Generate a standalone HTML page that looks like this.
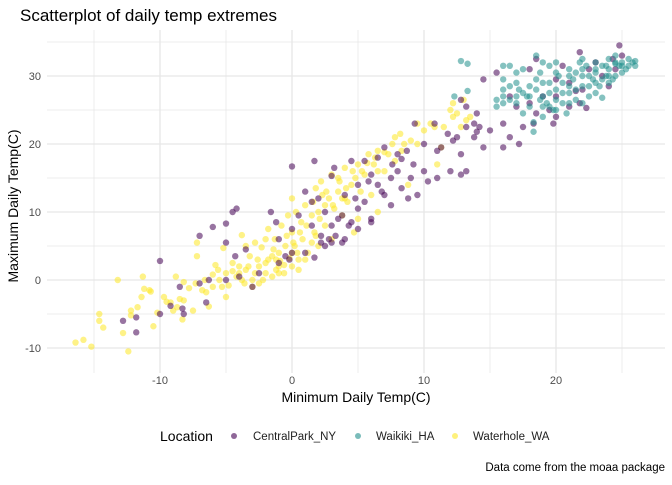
<!DOCTYPE html>
<html><head><meta charset="utf-8"><style>
body{margin:0;background:#fff;}
svg text{font-family:"Liberation Sans",sans-serif;}
</style></head><body>
<svg id="chart" width="672" height="480" xmlns="http://www.w3.org/2000/svg">
<text x="20" y="21" font-size="17" fill="#000">Scatterplot of daily temp extremes</text>
<g id="grid"></g>
<g id="points"></g>
<g id="ticks"></g>
<text x="356" y="402" font-size="14" text-anchor="middle">Minimum Daily Temp(C)</text>
<text transform="translate(18,206) rotate(-90)" font-size="14" text-anchor="middle">Maximum Daily Temp(C)</text>
<g>
<text x="160" y="441" font-size="14">Location</text>
<g><circle cx="234" cy="436" r="3" fill="#440154" fill-opacity="0.6"/><text x="253" y="440" font-size="11.5" fill="#222">CentralPark_NY</text></g>
<g><circle cx="358" cy="436" r="3" fill="#21908C" fill-opacity="0.6"/><text x="376" y="440" font-size="11.5" fill="#222">Waikiki_HA</text></g>
<g><circle cx="455" cy="436" r="3" fill="#FDE725" fill-opacity="0.6"/><text x="473" y="440" font-size="11.5" fill="#222">Waterhole_WA</text></g>
</g>
<text x="665" y="471" font-size="11.5" text-anchor="end">Data come from the moaa package</text>
</svg>
<script>
const xTicks=[-10,0,10,20];
const yTicks=[-10,0,10,20,30];
const xMinor=[-15,-5,5,15,25];
const yMinor=[-5,5,15,25,35];
const waterhole=[[-16.4,-9.2],[-15.8,-8.8],[-15.2,-9.8],[-14.6,-5],[-14.6,-6],[-14.3,-7],[-13.2,0],[-12.8,-7.8],[-12.4,-10.5],[-12.2,-4.5],[-12.2,-5.2],[-11.7,-4],[-11.4,-2.5],[-11.3,0.5],[-11.2,-1.3],[-10.8,-1.5],[-10.7,-1.7],[-10.5,-6.8],[-10.2,-4.8],[-9.7,-2.5],[-9.5,-3.2],[-9.2,-3.3],[-9,-4.5],[-8.7,-4],[-8.5,-2.8],[-8.8,0.5],[-8.2,-3],[-8.3,-5.8],[-8.2,-0.3],[-7.3,-0.5],[-7.5,-4.5],[-6.8,-1.5],[-7.2,5.5],[-7.2,3.5],[-6.5,-1.8],[-6.3,-3.9],[-6,0.8],[-5.8,2.2],[-5.5,0],[-5.3,-1],[-5,-2.5],[-5.2,4.7],[-4.5,1.3],[-4.2,0.5],[-4,1],[-3.8,6.6],[-3.6,-0.5],[-3.5,1.5],[-3.3,2],[-3,-1],[-2.8,5.5],[-2.6,3],[-2.5,-0.5],[-2.3,4.8],[-2,2.5],[-1.8,7.5],[-1.5,3.5],[-1.3,6],[-1.2,1.5],[-1,4],[-0.8,8],[-0.6,2.2],[-0.5,5],[-0.3,9.5],[-0.2,3.2],[0,12],[0,7],[0.2,5],[0.3,10],[0.5,3],[0.7,8.5],[0.8,6],[1,11],[1.2,4],[1.5,9.5],[1.7,7],[1.8,13.5],[2,10],[2.2,14.5],[2.5,8],[2.8,12],[3,15.5],[3.2,10.5],[3.5,13],[3.8,9.5],[4,16.5],[4.2,11.5],[4.5,14],[4.7,7],[5,17],[5.2,13],[5.5,15.5],[5.8,18.5],[6,12.5],[6.2,17],[6.5,19],[6.5,10],[7,16],[7.3,18.5],[7.8,21],[7.8,17.5],[8.2,21.5],[8.5,20],[8.8,14],[9.5,23],[9.5,20],[10,22],[10.5,23],[11,17],[11.5,22.5],[12,25],[12.2,24],[12.5,24.5],[13,26.5],[13.2,23.5],[13.5,24],[11.3,19.5],[12.8,22.5],[-2,1],[-1,2],[0,4],[1,3],[-3,0],[-4,2],[-5,1],[3,6],[2,5],[-1.5,0.5],[0.5,1.5],[6.5,16],[4,12],[5,9],[-1,1],[0,2],[-2.5,2],[1.5,5.5],[2.5,11],[3.5,15],[-3.5,5],[-6,-1],[-4.5,2.5],[-3.8,0],[-3.2,3.5],[-2.8,1],[-2.2,0],[-1.8,3],[-1.4,4.5],[-0.9,2.8],[-0.4,6.5],[0.1,5.5],[0.6,7],[1.1,8],[1.6,11.5],[2.1,9],[2.6,13],[3.1,11],[3.6,14.5],[4.1,13.5],[4.6,16],[5.3,16],[5.7,17.2],[6.3,18],[7,18.8],[7.6,20],[8.3,19],[9,20.5],[-4.8,-0.8],[-5.6,1.5],[-6.6,0],[-7.8,-1.2],[-2,6],[-0.6,1],[0.4,4],[1.8,6.5],[-1.2,3],[2.3,12.5],[3.8,12],[4.8,15],[12.2,26],[10.8,22.5]];
const centralPark=[[-12.8,-6],[-11.8,-5.5],[-11.8,-7.7],[-10,2.8],[-10,-5],[-9.2,-3.8],[-8.5,-1],[-8.3,-4.2],[-8.2,-5],[-7,6.5],[-7,-0.5],[-6.5,-3.3],[-6.3,0],[-6,7.8],[-5,8.3],[-5,5.5],[-5,0],[-4.5,10],[-4.2,10.5],[-4.3,3.5],[-4,0.5],[-3.5,4.5],[-3,-1],[-2.5,1],[-1.6,10],[-1.2,8.5],[-1,6],[-0.5,3.5],[0,16.7],[0,7.5],[0,4],[1,13],[1,4],[1.5,8],[1.7,17.5],[1.7,3.3],[2,12],[2.2,6.5],[2.5,10],[2.8,6],[3,15.3],[3,5.5],[3.2,16.5],[3.5,9],[3.8,5.5],[4,12.5],[4,6],[4.5,17.5],[4.5,8.5],[5,14],[5,10.5],[5.5,11.5],[5.5,17.5],[6,15.5],[6,9],[6.5,14],[6.5,18],[7,19.5],[7,12.5],[7.5,11],[7.5,15],[8,18.5],[8,16],[8.3,13.5],[8.7,19],[8.8,12],[9.2,17],[9.3,23],[9.5,12.5],[10,20],[10,16],[10.3,14.5],[10.8,23],[11,19],[11,15],[11.3,19.5],[11.8,21.5],[12,16],[12.2,20.5],[12.8,26.5],[12.8,18.5],[12.8,15.5],[13.2,22.5],[13.2,25.5],[13.2,16],[13.8,21],[14,24.5],[14,21.8],[14.5,29.5],[14.5,19.5],[15,22],[15.5,30.5],[16,19.5],[16,23],[16.5,27],[17,25.5],[17.2,20],[17.5,22.5],[18,31],[18,26],[18.3,23],[18.5,32.5],[19,27],[19.5,25],[19.8,23],[20,29.5],[20,27],[20.5,31.5],[21,29],[21,25.5],[21.8,33.5],[21.8,26],[22,28],[22.3,25.3],[22.5,31],[23,32],[23.5,30],[24,28.5],[24.3,32.5],[24.8,34.5],[24.5,31],[25,33],[5,7.5],[3,8],[2.5,5],[4.3,8],[6,8.5],[0.5,9.5],[3.3,6.5],[2.2,5.5],[3.8,9.5],[4.8,12],[5.8,14.5],[6.8,13],[7.6,17],[8.3,17.8],[9,15],[12.5,21],[13.8,23],[14.2,22.5],[18.5,24.5],[20,24],[21.5,27.8],[16.5,21],[1.5,11.5],[-1,2.5],[-0.2,3]];
const waikiki=[[12.8,32.2],[13.3,31.8],[13.3,27.8],[12.3,27],[15.5,26.5],[15.5,25.5],[16,28],[16,27],[16,31.5],[16.5,31.5],[16.5,26.5],[17,30.5],[17,26],[17.2,28],[17.5,31],[17.5,24.5],[17.8,27],[18,25.5],[18,28.5],[18.3,23.2],[18.3,21.8],[18.5,33],[18.5,28],[18.8,30.5],[19,24],[19,29],[19.3,26],[19.5,31.5],[19.5,27.5],[19.8,25],[20,32],[20,28],[20.2,30],[20.5,26],[20.8,24.5],[21,31],[21,27.5],[21.3,29.5],[21.5,26.5],[21.8,32],[22,30],[22,28.5],[22.3,31.5],[22.5,27],[22.8,29.5],[23,32],[23,30.5],[23.3,28.5],[23.5,26.8],[23.5,31.5],[23.8,30],[24,32.5],[24,31],[24.3,29.5],[24.5,33],[24.8,31.5],[25,32],[25,30.5],[25.3,31],[25.5,32.5],[25.8,32],[26,31.5],[26,32.2],[21.5,30.5],[20.5,29],[19,32],[22,26],[23,29],[24.5,30],[20,26.5],[18.8,26.5],[17,29],[16,29.5],[17.5,27.5],[19.5,29],[21,28.5],[22.5,30],[23.8,31.5],[24.5,31.8],[25.5,31.5],[16,26],[16.5,28.5],[17,27],[18,27],[18.5,29.5],[19,27],[19.5,25.5],[20,30.5],[20.5,27.5],[21,30],[21.5,28],[22,31],[22.5,28.5],[23,31],[23.5,29.5],[24,30],[24.5,32],[25,31.5],[22,32.5],[23,27.5],[21,26],[20,25],[19,25.5],[24,29]];
const NS="http://www.w3.org/2000/svg";
const L=47,R=665,T=30,B=373;
function sx(v){return 292+v*13.2;}
function sy(v){return 280-v*6.8;}
const grid=document.getElementById('grid'),pts=document.getElementById('points'),tk=document.getElementById('ticks');
function line(x1,y1,x2,y2,w,nm){const l=document.createElementNS(NS,'line');l.setAttribute('x1',x1);l.setAttribute('y1',y1);l.setAttribute('x2',x2);l.setAttribute('y2',y2);l.setAttribute('stroke','#e6e6e6');l.setAttribute('stroke-width',w);


grid.appendChild(l);}
xMinor.forEach(v=>line(sx(v),T,sx(v),B,0.7,'x-minor-gridline'));
yMinor.forEach(v=>line(L,sy(v),R,sy(v),0.7,'y-minor-gridline'));
xTicks.forEach(v=>line(sx(v),T,sx(v),B,1.3,'x-major-gridline'));
yTicks.forEach(v=>line(L,sy(v),R,sy(v),1.3,'y-major-gridline'));
function txt(x,y,s,a,nm){const t=document.createElementNS(NS,'text');t.setAttribute('x',x);t.setAttribute('y',y);t.setAttribute('font-size','11');t.setAttribute('fill','#4d4d4d');t.setAttribute('text-anchor',a);t.textContent=s;


tk.appendChild(t);}
xTicks.forEach(v=>txt(sx(v),384,String(v),'middle','x-tick-label'));
yTicks.forEach(v=>txt(41,sy(v)+4,String(v),'end','y-tick-label'));
function draw(data,col,nm){data.forEach(d=>{const c=document.createElementNS(NS,'circle');c.setAttribute('cx',sx(d[0]));c.setAttribute('cy',sy(d[1]));c.setAttribute('r','3.2');c.setAttribute('fill',col);c.setAttribute('fill-opacity','0.55');


pts.appendChild(c);});}
draw(waterhole,'#FDE725','point-waterhole');
draw(centralPark,'#440154','point-centralpark');
draw(waikiki,'#21908C','point-waikiki');
</script>
</body></html>
